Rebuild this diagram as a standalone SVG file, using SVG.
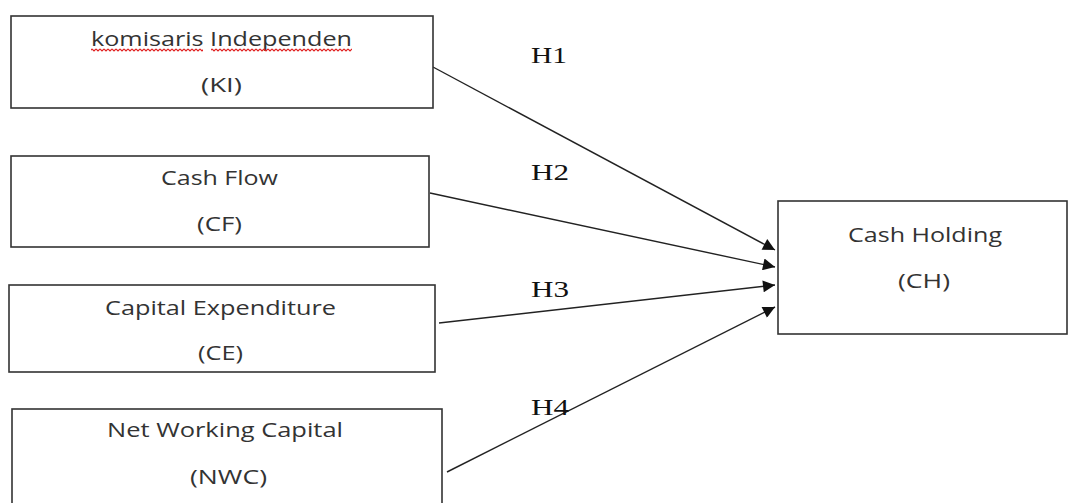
<svg xmlns="http://www.w3.org/2000/svg" width="1068" height="503" viewBox="0 0 1068 503">
<style>
.box{fill:#fff;stroke:#333;stroke-width:1.6}
.t{font-family:"Open Sans","Noto Sans",sans-serif;font-size:20px;fill:#333;text-anchor:middle}
.h{font-family:"Liberation Serif","Times New Roman",serif;font-size:23px;fill:#111}
.c{stroke:#222;stroke-width:1.4;fill:none;marker-end:url(#ah)}
</style>
<defs>
<marker id="ah" viewBox="0 0 10 10" refX="10" refY="5" markerWidth="17" markerHeight="12" markerUnits="userSpaceOnUse" orient="auto">
<path d="M0,0 L10,5 L0,10 Z" fill="#111"/>
</marker>
<pattern id="squig" x="0" y="48" width="4" height="4" patternUnits="userSpaceOnUse">
<path d="M0,1 L2,3 L4,1" fill="none" stroke="#e02020" stroke-width="1.1"/>
</pattern>
</defs>
<rect width="1068" height="503" fill="#fff"/>
<g id="connectors">
<line class="c" x1="433" y1="67" x2="775" y2="250"/>
<line class="c" x1="430" y1="193" x2="775" y2="267"/>
<line class="c" x1="439" y1="323" x2="775" y2="285"/>
<line class="c" x1="447" y1="472" x2="775" y2="307"/>
<text class="h" x="531" y="63" textLength="36" lengthAdjust="spacingAndGlyphs">H1</text>
<text class="h" x="531" y="180" textLength="38" lengthAdjust="spacingAndGlyphs">H2</text>
<text class="h" x="531" y="297" textLength="38" lengthAdjust="spacingAndGlyphs">H3</text>
<text class="h" x="531" y="415" textLength="38" lengthAdjust="spacingAndGlyphs">H4</text>
</g>
<g id="node-ki">
<rect class="box" x="11" y="16" width="422" height="92"/>
<text class="t" x="221.5" y="46" textLength="261" lengthAdjust="spacingAndGlyphs">komisaris Independen</text>
<rect x="91" y="48" width="112" height="4" fill="url(#squig)"/>
<rect x="211" y="48" width="141" height="4" fill="url(#squig)"/>
<text class="t" x="221.5" y="92" textLength="41" lengthAdjust="spacingAndGlyphs">(KI)</text>
</g>
<g id="node-cf">
<rect class="box" x="11" y="156" width="418" height="91"/>
<text class="t" x="219.5" y="185" textLength="117" lengthAdjust="spacingAndGlyphs">Cash Flow</text>
<text class="t" x="219.5" y="231" textLength="45" lengthAdjust="spacingAndGlyphs">(CF)</text>
</g>
<g id="node-ce">
<rect class="box" x="9" y="285" width="426" height="87"/>
<text class="t" x="220.5" y="315" textLength="231" lengthAdjust="spacingAndGlyphs">Capital Expenditure</text>
<text class="t" x="220.5" y="360" textLength="45" lengthAdjust="spacingAndGlyphs">(CE)</text>
</g>
<g id="node-nwc">
<rect class="box" x="12" y="409" width="430" height="100"/>
<text class="t" x="225" y="437" textLength="236" lengthAdjust="spacingAndGlyphs">Net Working Capital</text>
<text class="t" x="228.5" y="484" textLength="77" lengthAdjust="spacingAndGlyphs">(NWC)</text>
</g>
<g id="node-ch">
<rect class="box" x="778" y="201" width="289" height="133"/>
<text class="t" x="925" y="242" textLength="154" lengthAdjust="spacingAndGlyphs">Cash Holding</text>
<text class="t" x="924" y="288" textLength="52" lengthAdjust="spacingAndGlyphs">(CH)</text>
</g>
</svg>
